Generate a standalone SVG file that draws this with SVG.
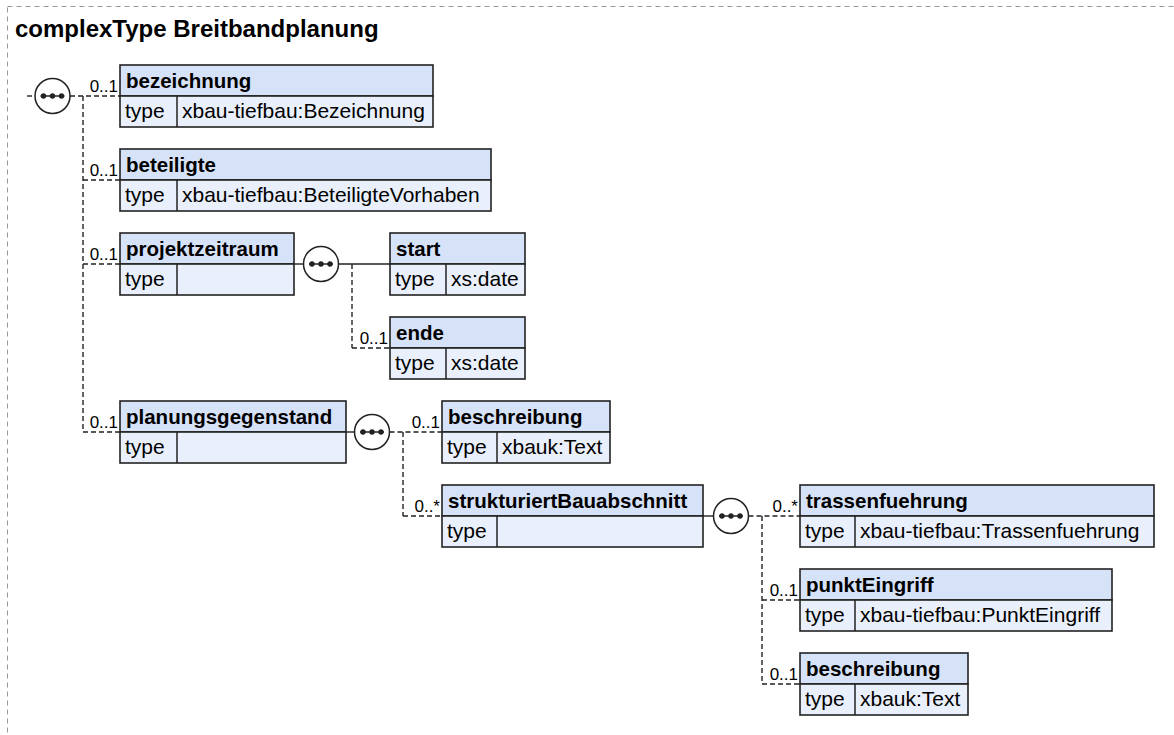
<svg xmlns="http://www.w3.org/2000/svg" width="1174" height="735" viewBox="0 0 1174 735">
<style>
text{font-family:"Liberation Sans",Arial,sans-serif;fill:#000}
.title{font-size:24px;font-weight:bold}
.name{font-size:20.5px;font-weight:bold}
.type{font-size:21px}
.card{font-size:17px}
.hdr{fill:#d6e2f7;stroke:#222;stroke-width:1.6}
.row{fill:#eaf0fb;stroke:#222;stroke-width:1.6}
.div{stroke:#222;stroke-width:1.5}
.solid{stroke:#222;stroke-width:1.4;fill:none}
.dash{stroke:#222;stroke-width:1.4;fill:none;stroke-dasharray:5,3}
.border{stroke:#999;stroke-width:1;fill:none;stroke-dasharray:5,4}
.seq circle.o{fill:#fff;stroke:#222;stroke-width:1.5}
.seq line{stroke:#222;stroke-width:1.5}
.seq circle.d{fill:#222}
</style>
<defs>
<g id="seqsym" class="seq">
<circle class="o" cx="0" cy="0" r="17.5"/>
<line x1="-12" y1="0" x2="12" y2="0"/>
<circle class="d" cx="-9" cy="0" r="2.7"/>
<circle class="d" cx="0" cy="0" r="2.7"/>
<circle class="d" cx="9" cy="0" r="2.7"/>
</g>
</defs>
<rect class="border" x="7.5" y="6.5" width="1180" height="740"/>
<text class="title" x="15" y="37">complexType Breitbandplanung</text>

<g id="connectors">
<line class="dash" x1="27" y1="96" x2="35" y2="96"/>
<line class="dash" x1="70" y1="96" x2="120" y2="96"/>
<line class="dash" x1="83" y1="96" x2="83" y2="432"/>
<line class="dash" x1="83" y1="180" x2="120" y2="180"/>
<line class="dash" x1="83" y1="264" x2="120" y2="264"/>
<line class="dash" x1="83" y1="432" x2="120" y2="432"/>
<line class="solid" x1="294" y1="264" x2="303.5" y2="264"/>
<line class="solid" x1="338.5" y1="264" x2="390" y2="264"/>
<line class="dash" x1="352" y1="264" x2="352" y2="348"/>
<line class="dash" x1="352" y1="348" x2="390" y2="348"/>
<line class="solid" x1="346" y1="432" x2="354.5" y2="432"/>
<line class="dash" x1="389.5" y1="432" x2="442" y2="432"/>
<line class="dash" x1="403" y1="432" x2="403" y2="516"/>
<line class="dash" x1="403" y1="516" x2="442" y2="516"/>
<line class="solid" x1="703" y1="516" x2="713.5" y2="516"/>
<line class="dash" x1="748.5" y1="516" x2="800" y2="516"/>
<line class="dash" x1="762" y1="516" x2="762" y2="684"/>
<line class="dash" x1="762" y1="600" x2="800" y2="600"/>
<line class="dash" x1="762" y1="684" x2="800" y2="684"/>
<g text-anchor="end">
<text class="card" x="118" y="92">0..1</text>
<text class="card" x="118" y="176">0..1</text>
<text class="card" x="118" y="260">0..1</text>
<text class="card" x="118" y="428">0..1</text>
<text class="card" x="388" y="344">0..1</text>
<text class="card" x="440" y="428">0..1</text>
<text class="card" x="440" y="512">0..*</text>
<text class="card" x="798" y="512">0..*</text>
<text class="card" x="798" y="596">0..1</text>
<text class="card" x="798" y="680">0..1</text>
</g>
</g>

<g id="seq-root"><use href="#seqsym" x="52.5" y="96"/></g>
<g id="seq-projektzeitraum"><use href="#seqsym" x="321" y="264"/></g>
<g id="seq-planungsgegenstand"><use href="#seqsym" x="372" y="432"/></g>
<g id="seq-strukturiertBauabschnitt"><use href="#seqsym" x="731" y="516"/></g>

<g id="node-bezeichnung">
<rect class="hdr" x="120" y="65" width="313" height="31"/>
<rect class="row" x="120" y="96" width="313" height="31"/>
<line class="div" x1="177" y1="96" x2="177" y2="127"/>
<text class="name" x="126" y="88">bezeichnung</text>
<text class="type" x="125" y="118">type</text>
<text class="type" x="182" y="118">xbau-tiefbau:Bezeichnung</text>
</g>
<g id="node-beteiligte">
<rect class="hdr" x="120" y="149" width="371" height="31"/>
<rect class="row" x="120" y="180" width="371" height="31"/>
<line class="div" x1="177" y1="180" x2="177" y2="211"/>
<text class="name" x="126" y="172">beteiligte</text>
<text class="type" x="125" y="202">type</text>
<text class="type" x="182" y="202">xbau-tiefbau:BeteiligteVorhaben</text>
</g>
<g id="node-projektzeitraum">
<rect class="hdr" x="120" y="233" width="174" height="31"/>
<rect class="row" x="120" y="264" width="174" height="31"/>
<line class="div" x1="177" y1="264" x2="177" y2="295"/>
<text class="name" x="126" y="256">projektzeitraum</text>
<text class="type" x="125" y="286">type</text>
</g>
<g id="node-planungsgegenstand">
<rect class="hdr" x="120" y="401" width="226" height="31"/>
<rect class="row" x="120" y="432" width="226" height="31"/>
<line class="div" x1="177" y1="432" x2="177" y2="463"/>
<text class="name" x="126" y="424">planungsgegenstand</text>
<text class="type" x="125" y="454">type</text>
</g>
<g id="node-start">
<rect class="hdr" x="390" y="233" width="135" height="31"/>
<rect class="row" x="390" y="264" width="135" height="31"/>
<line class="div" x1="446" y1="264" x2="446" y2="295"/>
<text class="name" x="396" y="256">start</text>
<text class="type" x="395" y="286">type</text>
<text class="type" x="451" y="286">xs:date</text>
</g>
<g id="node-ende">
<rect class="hdr" x="390" y="317" width="135" height="31"/>
<rect class="row" x="390" y="348" width="135" height="31"/>
<line class="div" x1="446" y1="348" x2="446" y2="379"/>
<text class="name" x="396" y="340">ende</text>
<text class="type" x="395" y="370">type</text>
<text class="type" x="451" y="370">xs:date</text>
</g>
<g id="node-beschreibung-1">
<rect class="hdr" x="442" y="401" width="168" height="31"/>
<rect class="row" x="442" y="432" width="168" height="31"/>
<line class="div" x1="497" y1="432" x2="497" y2="463"/>
<text class="name" x="448" y="424">beschreibung</text>
<text class="type" x="447" y="454">type</text>
<text class="type" x="502" y="454">xbauk:Text</text>
</g>
<g id="node-strukturiertBauabschnitt">
<rect class="hdr" x="442" y="485" width="261" height="31"/>
<rect class="row" x="442" y="516" width="261" height="31"/>
<line class="div" x1="497" y1="516" x2="497" y2="547"/>
<text class="name" x="448" y="508">strukturiertBauabschnitt</text>
<text class="type" x="447" y="538">type</text>
</g>
<g id="node-trassenfuehrung">
<rect class="hdr" x="800" y="485" width="354" height="31"/>
<rect class="row" x="800" y="516" width="354" height="31"/>
<line class="div" x1="855" y1="516" x2="855" y2="547"/>
<text class="name" x="806" y="508">trassenfuehrung</text>
<text class="type" x="805" y="538">type</text>
<text class="type" x="860" y="538">xbau-tiefbau:Trassenfuehrung</text>
</g>
<g id="node-punktEingriff">
<rect class="hdr" x="800" y="569" width="312" height="31"/>
<rect class="row" x="800" y="600" width="312" height="31"/>
<line class="div" x1="855" y1="600" x2="855" y2="631"/>
<text class="name" x="806" y="592">punktEingriff</text>
<text class="type" x="805" y="622">type</text>
<text class="type" x="860" y="622">xbau-tiefbau:PunktEingriff</text>
</g>
<g id="node-beschreibung-2">
<rect class="hdr" x="800" y="653" width="168" height="31"/>
<rect class="row" x="800" y="684" width="168" height="31"/>
<line class="div" x1="855" y1="684" x2="855" y2="715"/>
<text class="name" x="806" y="676">beschreibung</text>
<text class="type" x="805" y="706">type</text>
<text class="type" x="860" y="706">xbauk:Text</text>
</g>
</svg>
